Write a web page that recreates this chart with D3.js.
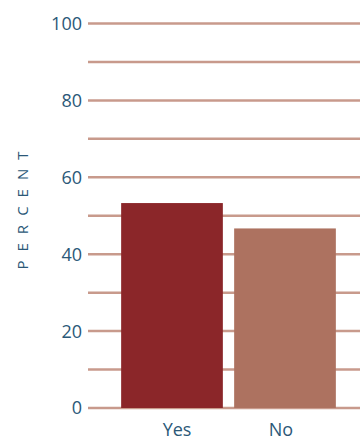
<!DOCTYPE html>
<html>
<head>
<meta charset="utf-8">
<script src="https://cdn.jsdelivr.net/npm/d3@7"></script>
<style>
  html, body { margin: 0; padding: 0; background: #fff; }
  svg { display: block; font-family: "Open Sans", sans-serif; }
</style>
</head>
<body>
<div id="chart"></div>
<script>
// Datos del gráfico
const categories = ['Yes', 'No'];
const values = [53.3, 46.7];
const barColors = ['#8b2629', '#ad7260'];
const tickValues = [0, 20, 40, 60, 80, 100];
const gridValues = [0, 10, 20, 30, 40, 50, 60, 70, 80, 90, 100];
const axisTitle = 'PERCENT';

const width = 360;
const height = 440;
const textColor = '#2b5878';
const gridColor = '#c89a8c';

const svg = d3.select('#chart')
  .append('svg')
  .attr('width', width)
  .attr('height', height);

// Escalas
const y = d3.scaleLinear().domain([0, 100]).range([408, 23.5]);
const x = d3.scaleBand().domain(categories).range([115.5, 341.5]).paddingInner(0.1).paddingOuter(0.05);
const xLabel = d3.scalePoint().domain(categories).range([177, 281]);

// Líneas de la cuadrícula
svg.append('g')
  .selectAll('line')
  .data(gridValues)
  .enter()
  .append('line')
  .attr('x1', 88)
  .attr('x2', width)
  .attr('y1', d => y(d))
  .attr('y2', d => y(d))
  .attr('stroke', gridColor)
  .attr('stroke-width', 2.5);

// Etiquetas del eje Y
svg.append('g')
  .selectAll('text')
  .data(tickValues)
  .enter()
  .append('text')
  .attr('x', 82)
  .attr('y', d => y(d))
  .attr('dy', '0.36em')
  .attr('text-anchor', 'end')
  .attr('fill', textColor)
  .attr('font-size', 18)
  .text(d => d);

// Barras
svg.append('g')
  .selectAll('rect')
  .data(values)
  .enter()
  .append('rect')
  .attr('x', (d, i) => x(categories[i]))
  .attr('width', x.bandwidth())
  .attr('y', d => y(d))
  .attr('height', d => y(0) - y(d))
  .attr('fill', (d, i) => barColors[i]);

// Etiquetas de categorías
svg.append('g')
  .selectAll('text')
  .data(categories)
  .enter()
  .append('text')
  .attr('x', d => xLabel(d))
  .attr('y', 436)
  .attr('text-anchor', 'middle')
  .attr('fill', textColor)
  .attr('font-size', 18)
  .text(d => d);

// Título del eje Y
svg.append('text')
  .attr('transform', 'translate(28,206) rotate(-90)')
  .attr('text-anchor', 'middle')
  .attr('fill', textColor)
  .attr('font-size', 15)
  .attr('letter-spacing', 9)
  .text(axisTitle);
</script>
</body>
</html>
